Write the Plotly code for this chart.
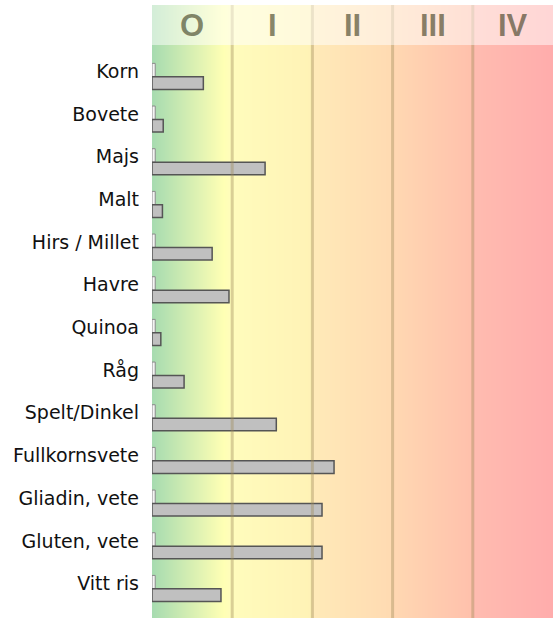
import numpy as np
import plotly.graph_objects as go

categories = ["Korn", "Bovete", "Majs", "Malt", "Hirs / Millet", "Havre", "Quinoa",
              "Råg", "Spelt/Dinkel", "Fullkornsvete", "Gliadin, vete", "Gluten, vete", "Vitt ris"]
small_values = [0.04] * 13
grey_values = [0.64, 0.14, 1.41, 0.13, 0.75, 0.96, 0.11, 0.40, 1.55, 2.27, 2.12, 2.12, 0.86]
class_labels = ["O", "I", "II", "III", "IV"]

y_pos = list(range(len(categories)))
Y_TOP, Y_BOT = -1.558, 12.808

fig = go.Figure()

# background gradient
ncol = 400
xs = np.linspace(0, 5, ncol + 1)
xc = (xs[:-1] + xs[1:]) / 2
colorscale = [
    [0.00, "rgb(166,219,176)"],
    [0.18, "rgb(255,255,180)"],
    [0.20, "rgb(255,252,188)"],
    [0.40, "rgb(255,242,182)"],
    [0.401, "rgb(255,234,184)"],
    [0.60, "rgb(255,218,178)"],
    [0.601, "rgb(255,216,178)"],
    [0.80, "rgb(255,192,172)"],
    [0.801, "rgb(255,188,176)"],
    [1.00, "rgb(255,172,172)"],
]
fig.add_trace(go.Heatmap(
    x=xc, y=[Y_TOP - 1, Y_BOT + 1], z=[xc / 5, xc / 5],
    colorscale=colorscale, zmin=0, zmax=1, showscale=False, hoverinfo="skip"))

fig.add_trace(go.Bar(
    y=y_pos, x=small_values, orientation="h", width=0.315, offset=-0.19,
    marker=dict(color="#f4f4f4", line=dict(color="#8a8a8a", width=1)), showlegend=False))
fig.add_trace(go.Bar(
    y=y_pos, x=grey_values, orientation="h", width=0.295, offset=0.125,
    marker=dict(color="#c0c0c0", line=dict(color="#555555", width=1.5)), showlegend=False))

# class separators
for k in range(1, 5):
    fig.add_shape(type="line", x0=k, x1=k, y0=Y_TOP, y1=Y_BOT, xref="x", yref="y",
                  line=dict(color="rgba(160,140,90,0.4)", width=3), layer="above")

# header band
fig.add_shape(type="rect", x0=0, x1=5, y0=Y_TOP, y1=-0.621, xref="x", yref="y",
              fillcolor="rgba(255,255,255,0.5)", line=dict(width=0), layer="above")
for i, lab in enumerate(class_labels):
    fig.add_annotation(x=i + 0.5, y=-1.075, text=lab, showarrow=False, xref="x", yref="y",
                       font=dict(family="Liberation Sans", size=31, weight="bold",
                                 color="rgba(55,55,25,0.6)"))

fig.update_layout(
    width=560, height=618,
    margin=dict(l=152, r=7, t=5, b=0),
    paper_bgcolor="white", plot_bgcolor="white",
    barmode="overlay",
    font=dict(family="DejaVu Sans", size=19, color="#111"),
    xaxis=dict(range=[0, 5], showgrid=False, zeroline=False, showticklabels=False, ticks=""),
    yaxis=dict(range=[Y_BOT, Y_TOP], tickmode="array", tickvals=y_pos, ticktext=categories,
               showgrid=False, zeroline=False, ticks="", ticklabelstandoff=12,
               tickfont=dict(family="DejaVu Sans", size=19, color="#111")),
)

fig.write_html("out.html", config={"displayModeBar": False},
               post_script="document.body.style.margin='0';")
